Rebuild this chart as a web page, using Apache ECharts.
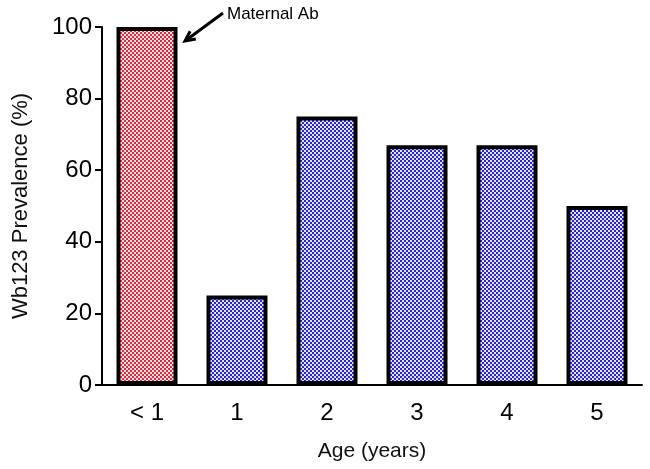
<!DOCTYPE html>
<html><head><meta charset="utf-8">
<script src="https://cdn.jsdelivr.net/npm/echarts@6/dist/echarts.min.js"></script>
<style>html,body{margin:0;padding:0;background:#fff}#c{width:650px;height:469px}</style>
</head><body><div id="c"></div>
<script>
const categories = ['< 1', '1', '2', '3', '4', '5'];
const prevalence = [100, 25, 75, 67, 67, 50];
const barGroup = ['maternal', 'age', 'age', 'age', 'age', 'age'];
const yTicks = [0, 20, 40, 60, 80, 100];
const annotationText = 'Maternal Ab';

function checker(c1, c2) {
  const cv = document.createElement('canvas');
  cv.width = 4; cv.height = 4;
  const g = cv.getContext('2d');
  g.fillStyle = c2; g.fillRect(0, 0, 4, 4);
  g.fillStyle = c1; g.fillRect(0, 0, 2, 2); g.fillRect(2, 2, 2, 2);
  return { image: cv, repeat: 'repeat' };
}
const fills = {
  maternal: checker('#e3283c', '#fbe4e8'),
  age: checker('#2a24d8', '#e4e4fb')
};

const chart = echarts.init(document.getElementById('c'));
const font = 'Liberation Sans, Arial, sans-serif';
chart.setOption({
  animation: false,
  grid: { left: 102, right: 8, top: 27, bottom: 84 },
  xAxis: {
    type: 'category', data: categories,
    name: 'Age (years)', nameLocation: 'middle', nameGap: 56,
    nameTextStyle: { fontSize: 21, color: '#111', fontFamily: font },
    axisLine: { lineStyle: { color: '#000', width: 2 } },
    axisTick: { alignWithLabel: true, length: 8, lineStyle: { color: '#000', width: 2 } },
    axisLabel: { fontSize: 24, color: '#000', fontFamily: font, margin: 16 }
  },
  yAxis: {
    type: 'value', min: yTicks[0], max: yTicks[yTicks.length - 1], interval: 20,
    name: 'Wb123 Prevalence (%)', nameLocation: 'middle', nameGap: 70,
    nameTextStyle: { fontSize: 22, color: '#111', fontFamily: font },
    splitLine: { show: false },
    axisLine: { show: true, lineStyle: { color: '#000', width: 2 } },
    axisTick: { show: true, length: 7, lineStyle: { color: '#000', width: 2 } },
    axisLabel: { fontSize: 24, color: '#000', fontFamily: font, margin: 10 }
  },
  series: [{
    type: 'bar', barWidth: 61,
    data: prevalence.map((v, i) => ({
      value: v,
      itemStyle: { color: fills[barGroup[i]], borderColor: '#000', borderWidth: 4 }
    }))
  }]
});

const tip = chart.convertToPixel({ xAxisIndex: 0, yAxisIndex: 0 }, [0, prevalence[0]]);
const tx = tip[0] + 38, ty = tip[1] + 14;
const tailX = tx + 38, tailY = ty - 28;
const ang = Math.atan2(ty - tailY, tx - tailX);
const ah = 11, aw = 0.45;
chart.setOption({
  graphic: [
    { type: 'line', shape: { x1: tailX, y1: tailY, x2: tx - 3 * Math.cos(ang), y2: ty - 3 * Math.sin(ang) }, style: { stroke: '#000', lineWidth: 3 } },
    { type: 'polyline', shape: { points: [
      [tx - ah * Math.cos(ang - aw), ty - ah * Math.sin(ang - aw)], [tx, ty],
      [tx - ah * Math.cos(ang + aw), ty - ah * Math.sin(ang + aw)] ] },
      style: { stroke: '#000', lineWidth: 3, fill: null } },
    { type: 'text', x: tailX + 4, y: tailY + 1, style: { text: annotationText, font: '17px ' + font, fill: '#000', textVerticalAlign: 'middle' } }
  ]
});
</script></body></html>
